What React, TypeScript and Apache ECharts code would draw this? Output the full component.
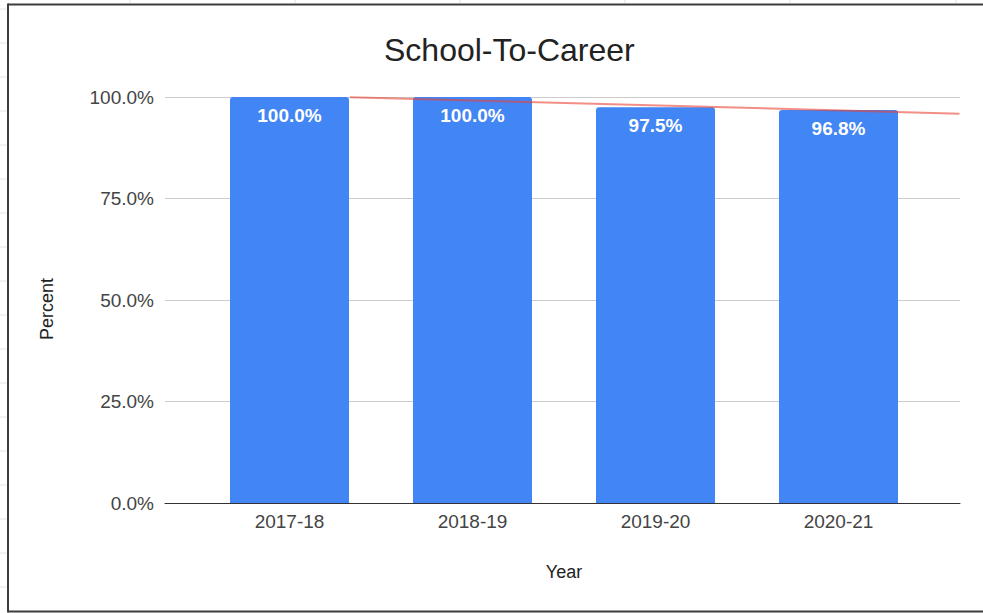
import React, { useEffect, useRef } from "react";
import * as echarts from "echarts";

const categories = ["2017-18", "2018-19", "2019-20", "2020-21"];
const values = [100.0, 100.0, 97.5, 96.8];
const yTicks = [0, 25, 50, 75, 100];
// trendline end points (x in category units, y in percent)
const trendX = [0.33, 3.66];
const trendY = [99.95, 95.9];

const FONT = 'Arial, "Liberation Sans", sans-serif';

export default function App() {
  const ref = useRef<HTMLDivElement>(null);
  useEffect(() => {
    if (!ref.current) return;
    const chart = echarts.init(ref.current, undefined, { renderer: "svg" });

    const decor: any[] = [];
    // faint spreadsheet cell lines outside the frame
    [130, 295, 460, 625, 790, 956].forEach((x) =>
      decor.push({ type: "line", shape: { x1: x, y1: 0, x2: x, y2: 3 }, style: { stroke: "#dedede", lineWidth: 1 }, silent: true })
    );
    for (let y = 9; y < 613; y += 34) {
      decor.push({ type: "line", shape: { x1: 0, y1: y, x2: 7, y2: y }, style: { stroke: "#e4e4e4", lineWidth: 1 }, silent: true });
    }
    // frame
    decor.push({ type: "line", shape: { x1: 8, y1: 4.5, x2: 983, y2: 4.5 }, style: { stroke: "#3c3c3c", lineWidth: 2 } });
    decor.push({ type: "line", shape: { x1: 8, y1: 3.5, x2: 8, y2: 612.5 }, style: { stroke: "#3c3c3c", lineWidth: 2 } });
    decor.push({ type: "line", shape: { x1: 8, y1: 611.5, x2: 983, y2: 611.5 }, style: { stroke: "#3c3c3c", lineWidth: 2 } });
    // y axis title
    decor.push({
      type: "text",
      x: 47,
      y: 309,
      rotation: Math.PI / 2,
      style: { text: "Percent", fontSize: 18, fontFamily: FONT, fill: "#222", align: "center", verticalAlign: "middle" },
    });

    chart.setOption({
      animation: false,
      backgroundColor: "#ffffff",
      title: {
        text: "School-To-Career",
        left: 379,
        top: 29,
        textStyle: { fontSize: 32, fontWeight: "normal", color: "#222", fontFamily: FONT },
      },
      grid: [
        { left: 165, right: 23, top: 97, bottom: 110 },
        { left: 198, right: 53, top: 97, bottom: 110 },
      ],
      xAxis: [
        {
          gridIndex: 0,
          type: "value",
          min: -0.681,
          max: 3.663,
          axisLine: { show: true, lineStyle: { color: "#333", width: 1 } },
          axisTick: { show: false },
          axisLabel: { show: false },
          splitLine: { show: false },
        },
        {
          gridIndex: 1,
          type: "category",
          data: categories,
          axisLine: { show: false },
          axisTick: { show: false },
          axisLabel: { fontSize: 19, color: "#444", margin: 9, fontFamily: FONT },
          name: "Year",
          nameLocation: "middle",
          nameGap: 60,
          nameTextStyle: { fontSize: 18, color: "#222", fontFamily: FONT },
        },
      ],
      yAxis: [
        {
          gridIndex: 0,
          type: "value",
          min: yTicks[0],
          max: yTicks[yTicks.length - 1],
          interval: 25,
          axisLine: { show: false },
          axisTick: { show: false },
          axisLabel: {
            fontSize: 19,
            color: "#444",
            margin: 11,
            fontFamily: FONT,
            formatter: (v: number) => v.toFixed(1) + "%",
          },
          splitLine: { lineStyle: { color: "#cccccc", width: 1 } },
        },
        {
          gridIndex: 1,
          type: "value",
          min: yTicks[0],
          max: yTicks[yTicks.length - 1],
          interval: 25,
          show: false,
          splitLine: { show: false },
        },
      ],
      series: [
        {
          type: "bar",
          xAxisIndex: 1,
          yAxisIndex: 1,
          data: values,
          barWidth: 119,
          itemStyle: { color: "#4285f4", borderRadius: [3, 3, 0, 0] },
          label: {
            show: true,
            position: "insideTop",
            distance: 9,
            color: "#ffffff",
            fontSize: 19,
            fontWeight: "bold",
            fontFamily: FONT,
            formatter: (p: any) => Number(p.value).toFixed(1) + "%",
          },
        },
        {
          type: "line",
          xAxisIndex: 0,
          yAxisIndex: 0,
          data: trendX.map((x, i) => [x, trendY[i]]),
          symbol: "none",
          z: 5,
          lineStyle: { color: "#ea4335", width: 2, opacity: 0.6 },
        },
      ],
      graphic: decor,
    });
    return () => chart.dispose();
  }, []);
  return <div ref={ref} style={{ position: "fixed", left: 0, top: 0, width: 983, height: 613 }} />;
}
